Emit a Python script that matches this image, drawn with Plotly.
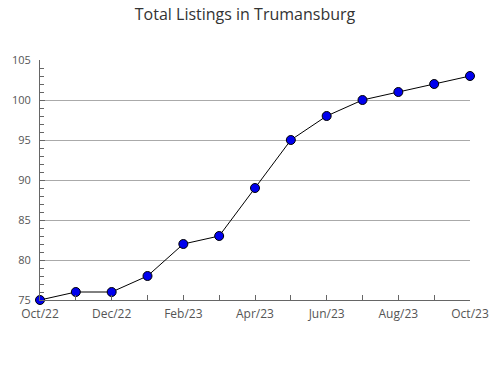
import plotly.graph_objects as go

months = ["Oct/22", "Nov/22", "Dec/22", "Jan/23", "Feb/23", "Mar/23", "Apr/23",
          "May/23", "Jun/23", "Jul/23", "Aug/23", "Sep/23", "Oct/23"]
listings = [75, 76, 76, 78, 82, 83, 89, 95, 98, 100, 101, 102, 103]
tick_labels = ["Oct/22", "", "Dec/22", "", "Feb/23", "", "Apr/23", "",
               "Jun/23", "", "Aug/23", "", "Oct/23"]

x = list(range(len(months)))

fig = go.Figure()
fig.add_trace(go.Scatter(
    x=x, y=listings, mode="lines+markers",
    line=dict(color="black", width=1),
    marker=dict(symbol="circle", size=9, color="#0000ee",
                line=dict(color="black", width=1)),
    cliponaxis=False,
))

fig.update_layout(
    width=490, height=380,
    margin=dict(l=40, r=20, t=60, b=80, autoexpand=False),
    paper_bgcolor="white", plot_bgcolor="white",
    showlegend=False,
    font=dict(family="Open Sans", color="#555555", size=11),
    title=dict(text="Total Listings in Trumansburg", x=0.5, xanchor="center",
               y=0.962, yanchor="middle",
               font=dict(family="Open Sans", size=16, color="#333333")),
)
fig.update_xaxes(
    range=[0, 12], tickmode="array", tickvals=x, ticktext=tick_labels,
    showgrid=False, zeroline=False, automargin=False,
    showline=True, linecolor="#666666", linewidth=1,
    ticks="inside", ticklen=5, tickcolor="#666666",
    ticklabelstandoff=3,
    tickfont=dict(size=12, color="#555555"),
)
fig.update_yaxes(
    range=[75, 105], tickmode="linear", tick0=75, dtick=5,
    showgrid=True, gridcolor="#aaaaaa", gridwidth=1, zeroline=False,
    automargin=False,
    showline=True, linecolor="#666666", linewidth=1,
    ticks="inside", ticklen=5, tickcolor="#666666",
    ticklabelstandoff=6,
    minor=dict(dtick=1, ticks="inside", ticklen=4, tickcolor="#666666", showgrid=False),
    tickfont=dict(size=11, color="#555555"),
)

fig.write_html("out.html")
